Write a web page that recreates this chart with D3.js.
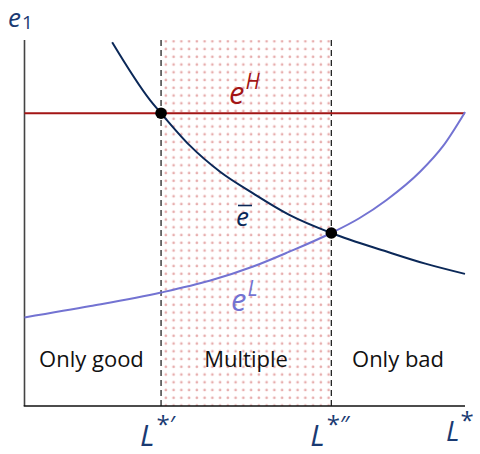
<!DOCTYPE html>
<html>
<head>
<meta charset="utf-8">
<script src="https://cdn.jsdelivr.net/npm/d3@7"></script>
<style>
  html, body { margin: 0; padding: 0; background: #fff; }
  svg { display: block; }
  text { font-family: "Open Sans", "Noto Sans", sans-serif; }
</style>
</head>
<body>
<svg id="chart" width="480" height="454"></svg>
<script>
// Threshold values of L* bounding the multiple-equilibria region
const thresholds = [31.0, 69.65];
const thresholdLabels = ["L*′", "L*″"];

// High-effort level e^H (constant)
const eHigh = 80;

// Cutoff effort ē as a function of L*
const ebarL = [19.9, 28.5, 31.0, 37.5, 44.4, 51.9, 60.0, 69.65, 82.2, 91.0, 100];
const ebarE = [99.4, 83.6, 80.0, 71.2, 64.0, 58.1, 52.3, 47.27, 42.2, 38.9, 36.1];

// Low-effort level e^L as a function of L*
const eLowL = [0, 15, 31.0, 42.0, 51.9, 60.0, 69.65, 76.0, 82.2, 89.8, 95.0, 100];
const eLowE = [24.2, 27.3, 31.0, 34.2, 38.1, 42.1, 47.27, 51.3, 56.3, 64.0, 71.0, 80.3];

// Region names along the L* axis
const regionNames = ["Only good", "Multiple", "Only bad"];
const regionCenters = [15.2, 50.3, 84.8];

const svg = d3.select("#chart");
const x = d3.scaleLinear().domain([0, 100]).range([24.5, 465]);
const y = d3.scaleLinear().domain([0, 100]).range([406, 40]);

const navy = "#0b2858";
const labelNavy = "#1a3a72";
const red = "#a31515";
const purple = "#7373d2";

// Dotted fill pattern for the multiple-equilibria band
const defs = svg.append("defs");
const pat = defs.append("pattern")
  .attr("id", "dots")
  .attr("patternUnits", "userSpaceOnUse")
  .attr("x", x(thresholds[0]) + 1)
  .attr("y", y(100) - 2.5)
  .attr("width", 7.75)
  .attr("height", 7.75);
pat.append("circle")
  .attr("cx", 3.8).attr("cy", 3.8).attr("r", 1.35)
  .attr("fill", "#e7adad");

svg.append("rect")
  .attr("x", x(thresholds[0]))
  .attr("y", y(100))
  .attr("width", x(thresholds[1]) - x(thresholds[0]))
  .attr("height", y(0) - y(100))
  .attr("fill", "url(#dots)");

// Dashed threshold guides
svg.selectAll("line.guide")
  .data(thresholds)
  .join("line")
  .attr("class", "guide")
  .attr("x1", d => x(d)).attr("x2", d => x(d))
  .attr("y1", y(100)).attr("y2", y(0))
  .attr("stroke", "#111")
  .attr("stroke-width", 1.2)
  .attr("stroke-dasharray", "6,4");

// Axes
svg.append("line")
  .attr("x1", x(0)).attr("x2", x(0))
  .attr("y1", y(100)).attr("y2", y(0))
  .attr("stroke", "#444").attr("stroke-width", 1.6);
svg.append("line")
  .attr("x1", x(0) - 0.8).attr("x2", x(100))
  .attr("y1", y(0)).attr("y2", y(0))
  .attr("stroke", "#111").attr("stroke-width", 1.6);

const line = d3.line()
  .x(d => x(d[0]))
  .y(d => y(d[1]))
  .curve(d3.curveMonotoneX);

// e^H
svg.append("line")
  .attr("x1", x(0)).attr("x2", x(100))
  .attr("y1", y(eHigh)).attr("y2", y(eHigh))
  .attr("stroke", red).attr("stroke-width", 2);

// e^L
svg.append("path")
  .datum(d3.zip(eLowL, eLowE))
  .attr("d", line)
  .attr("fill", "none")
  .attr("stroke", purple)
  .attr("stroke-width", 2);

// ē
svg.append("path")
  .datum(d3.zip(ebarL, ebarE))
  .attr("d", line)
  .attr("fill", "none")
  .attr("stroke", navy)
  .attr("stroke-width", 2);

// Equilibrium points
const eqPoints = [[thresholds[0], eHigh], [thresholds[1], ebarE[ebarL.indexOf(thresholds[1])]]];
svg.selectAll("circle.eq")
  .data(eqPoints)
  .join("circle")
  .attr("class", "eq")
  .attr("cx", d => x(d[0]))
  .attr("cy", d => y(d[1]))
  .attr("r", 5.8)
  .attr("fill", "#000");

// Region names
svg.selectAll("text.region")
  .data(regionNames)
  .join("text")
  .attr("class", "region")
  .attr("x", (d, i) => x(regionCenters[i]))
  .attr("y", 367)
  .attr("text-anchor", "middle")
  .attr("font-size", 22)
  .attr("fill", "#111")
  .text(d => d);

// Threshold tick labels
thresholds.forEach((t, i) => {
  const tx = svg.append("text")
    .attr("x", x(t) - 21)
    .attr("y", 446)
    .attr("font-size", 30)
    .attr("fill", labelNavy);
  tx.append("tspan").attr("font-style", "italic").text("L");
  tx.append("tspan").attr("font-size", 24).attr("dy", -13).attr("dx", 2).text(thresholdLabels[i].slice(1));
});

// Axis titles
const xt = svg.append("text")
  .attr("x", 446).attr("y", 441)
  .attr("font-size", 28).attr("fill", labelNavy);
xt.append("tspan").attr("font-style", "italic").text("L");
xt.append("tspan").attr("font-size", 24).attr("dy", -12).attr("dx", 1).text("*");

const yt = svg.append("text")
  .attr("x", 8).attr("y", 27)
  .attr("font-size", 26).attr("fill", labelNavy);
yt.append("tspan").attr("font-style", "italic").text("e");
yt.append("tspan").attr("font-size", 19).attr("dy", 2).attr("dx", 1).text("1");

// Curve labels
const lh = svg.append("text")
  .attr("x", 229).attr("y", 104)
  .attr("font-size", 31).attr("fill", red);
lh.append("tspan").attr("font-style", "italic").text("e");
lh.append("tspan").attr("font-style", "italic").attr("font-size", 21).attr("dy", -15).attr("dx", 1).text("H");

svg.append("text")
  .attr("x", 236).attr("y", 225.5)
  .attr("font-size", 26).attr("fill", navy)
  .attr("font-style", "italic")
  .text("e");
svg.append("line")
  .attr("x1", 238).attr("x2", 252)
  .attr("y1", 205.5).attr("y2", 205.5)
  .attr("stroke", navy).attr("stroke-width", 1.6);

const ll = svg.append("text")
  .attr("x", 231).attr("y", 311)
  .attr("font-size", 31).attr("fill", purple);
ll.append("tspan").attr("font-style", "italic").text("e");
ll.append("tspan").attr("font-style", "italic").attr("font-size", 21).attr("dy", -15).attr("dx", 1).text("L");
</script>
</body>
</html>
